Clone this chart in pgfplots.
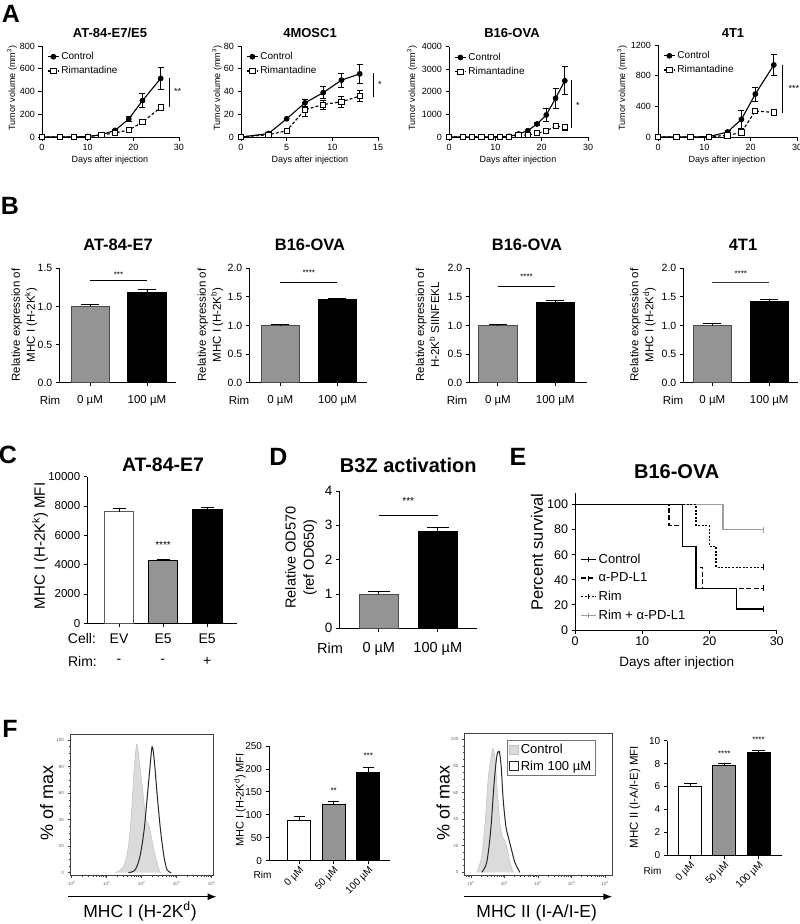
\documentclass[border=0pt]{standalone}
\usepackage{fontspec}
\setmainfont{Liberation Sans}
\usepackage{pgfplots}
\pgfplotsset{compat=1.18}
\usetikzlibrary{arrows.meta}
\newcommand\fs[1]{\fontsize{#1}{#1}\selectfont}
\definecolor{bargray}{gray}{0.58}
\definecolor{histgray}{gray}{0.86}
\definecolor{survgray}{gray}{0.62}

\pgfplotsset{
 gp/.style={scale only axis, anchor=south west, axis x line*=bottom, axis y line*=left,
   axis line style={line width=0.9pt, black}, tick align=outside, major tick length=3.5pt,
   tick style={line width=0.9pt, black}, clip=false, scaled ticks=false,
   /pgf/number format/assume math mode=true, /pgf/number format/1000 sep={}},
 gA/.style={gp, width=137pt, height=91pt, xmin=0, ymin=0, xtick={0,10,20,30},
   tick label style={font=\fs{9}},
   legend style={draw=none, fill=none, at={(0.03,0.965)}, anchor=north west, font=\fs{10}, row sep=1.5pt, inner sep=1pt},
   legend cell align=left,
   legend image code/.code={\draw[mark repeat=2,mark phase=2,##1] plot coordinates {(0pt,0pt)(5.5pt,0pt)(11pt,0pt)};}},
 ctrl/.style={black, line width=1.1pt, mark=*, mark size=2.3pt, mark options={solid}},
 rimt/.style={black, line width=1.1pt, dash pattern=on 3pt off 2pt, mark=square*, mark size=2.6pt, mark options={solid, fill=white, line width=0.9pt}},
 errA/.style={forget plot, only marks, mark=none, black, error bars/y dir=both, error bars/y explicit, error bars/error bar style={line width=0.8pt, solid}, error bars/error mark options={rotate=90, line width=0.8pt, mark size=3pt, solid}},
 gB/.style={gp, height=114.4pt, ymin=0, xtick={0,1}, xticklabels={0 µM,100 µM},
   yticklabel style={font=\fs{10.5}, /pgf/number format/fixed, /pgf/number format/fixed zerofill, /pgf/number format/precision=1},
   xticklabel style={font=\fs{11.5}, yshift=-6pt}},
 gpbar/.style={ybar, bar shift=0pt, bar width=0.67, line width=0.8pt, error bars/y dir=plus, error bars/y explicit, error bars/error bar style={black, line width=0.9pt}, error bars/error mark options={rotate=90, black, line width=0.9pt, mark size=#1}},
 gH/.style={scale only axis, anchor=south west, tick align=outside, tick pos=left, major tick length=2.5pt, minor tick length=1.5pt,
   axis line style={black!75, line width=0.6pt}, tick style={black!75, line width=0.5pt},
   tick label style={font=\fs{4.5}, text=black!60}, xtick={0,1,2,3,4},
   xticklabels={10\textsuperscript{0},10\textsuperscript{1},10\textsuperscript{2},10\textsuperscript{3},10\textsuperscript{4}},
   ytick={0,20,40,60,80,100}, minor y tick num=3,
   /pgf/number format/assume math mode=true},
}

\begin{document}
\begin{tikzpicture}
\path[use as bounding box] (0pt,0pt) rectangle (800pt,-924pt);

%================ A =================
\begin{axis}[gA, at={(42pt,-137pt)}, xmax=30, ymax=800, ytick={0,200,400,600,800}]
\addplot[errA] coordinates {(16,58)+-(0,8) (19,158)+-(0,20) (22,320)+-(0,63) (26,515)+-(0,100)};
\addplot[errA] coordinates {(19,62)+-(0,8) (22,130)+-(0,10) (26,260)+-(0,18)};
\addplot[ctrl] coordinates {(0,0)(4,0)(7,0)(10,5)(13,20)(16,58)(19,158)(22,320)(26,515)};
\addlegendentry{Control}
\addplot[rimt] coordinates {(0,0)(4,0)(7,0)(10,3)(13,18)(16,35)(19,62)(22,130)(26,260)};
\addlegendentry{Rimantadine}
\draw[line width=0.8pt] (axis cs:28,264) -- (axis cs:28,519);
\node[font=\fs{9}] at (axis cs:29.7,404) {**};
\end{axis}

\begin{axis}[gA, at={(241pt,-137pt)}, xmax=15, xtick={0,5,10,15}, ymax=80, ytick={0,20,40,60,80}]
\addplot[errA] coordinates {(7,30)+-(0,3) (9,39)+-(0,5.5) (11,50)+-(0,6) (13,55.5)+-(0,8)};
\addplot[errA] coordinates {(7,24)+-(0,6) (9,28.5)+-(0,4) (11,31)+-(0,5) (13,36)+-(0,5)};
\addplot[ctrl] coordinates {(0,0)(3,3)(5,16)(7,30)(9,39)(11,50)(13,55.5)};
\addlegendentry{Control}
\addplot[rimt] coordinates {(0,0)(3,2)(5,5.5)(7,24)(9,28.5)(11,31)(13,36)};
\addlegendentry{Rimantadine}
\draw[line width=0.8pt] (axis cs:14.45,35) -- (axis cs:14.45,56);
\node[font=\fs{9}] at (axis cs:15.2,46) {*};
\end{axis}

\begin{axis}[gA, at={(449pt,-137pt)}, width=139pt, height=90.3pt, xmax=30, ymax=4000, ytick={0,1000,2000,3000,4000}]
\addplot[errA] coordinates {(19,576)+-(0,80) (21,975)+-(0,300) (23,1714)+-(0,450) (25,2494)+-(0,620)};
\addplot[errA] coordinates {(21,266)+-(0,50) (23,487)+-(0,90) (25,430)+-(0,130)};
\addplot[ctrl] coordinates {(0,0)(3,0)(5,0)(7,0)(9,0)(11,20)(13,30)(15,133)(17,280)(19,576)(21,975)(23,1714)(25,2494)};
\addlegendentry{Control}
\addplot[rimt] coordinates {(0,0)(3,0)(5,0)(7,0)(9,0)(11,5)(13,15)(15,80)(17,90)(19,165)(21,266)(23,487)(25,430)};
\addlegendentry{Rimantadine}
\draw[line width=0.8pt] (axis cs:26.5,400) -- (axis cs:26.5,2525);
\node[font=\fs{9}] at (axis cs:27.8,1420) {*};
\end{axis}

\begin{axis}[gA, at={(658pt,-137pt)}, width=139pt, height=92pt, xmax=30, ymax=1200, ytick={0,400,800,1200}]
\addplot[errA] coordinates {(15,65)+-(0,25) (18,230)+-(0,120) (21,560)+-(0,90) (25,940)+-(0,140)};
\addplot[errA] coordinates {(15,20)+-(0,10) (18,60)+-(0,40) (21,340)+-(0,15) (25,320)+-(0,40)};
\addplot[ctrl] coordinates {(0,0)(4,0)(7,0)(11,5)(15,65)(18,230)(21,560)(25,940)};
\addlegendentry{Control}
\addplot[rimt] coordinates {(0,0)(4,0)(7,0)(11,5)(15,20)(18,60)(21,340)(25,320)};
\addlegendentry{Rimantadine}
\draw[line width=0.8pt] (axis cs:26.8,309) -- (axis cs:26.8,939);
\node[font=\fs{9}] at (axis cs:29.3,640) {***};
\end{axis}

%================ B =================
\begin{axis}[gB, at={(59.3pt,-382.7pt)}, width=116.7pt, xmin=-0.54, xmax=1.51, ymax=1.5, ytick={0,0.5,1,1.5}]
\addplot[gpbar=9pt, fill=bargray, draw=black!70] coordinates {(0,1.0)+-(0,0.02)};
\addplot[gpbar=9pt, fill=black, draw=black] coordinates {(1,1.19)+-(0,0.03)};
\draw[line width=0.8pt] (axis cs:0,1.335) -- (axis cs:1,1.335);
\node[font=\fs{8}] at (axis cs:0.5,1.42) {***};
\end{axis}

\begin{axis}[gB, at={(249.3pt,-382.7pt)}, width=117.4pt, xmin=-0.54, xmax=1.51, ymax=2, ytick={0,0.5,1,1.5,2}]
\addplot[gpbar=9pt, fill=bargray, draw=black!70] coordinates {(0,1.0)+-(0,0.01)};
\addplot[gpbar=9pt, fill=black, draw=black] coordinates {(1,1.45)+-(0,0.03)};
\draw[line width=0.8pt] (axis cs:0,1.75) -- (axis cs:1,1.75);
\node[font=\fs{8}] at (axis cs:0.5,1.92) {****};
\end{axis}

\begin{axis}[gB, at={(469.3pt,-382.7pt)}, width=117.4pt, xmin=-0.5, xmax=1.55, ymax=2, ytick={0,0.5,1,1.5,2}]
\addplot[gpbar=9pt, fill=bargray, draw=black!70] coordinates {(0,1.0)+-(0,0.015)};
\addplot[gpbar=9pt, fill=black, draw=black] coordinates {(1,1.41)+-(0,0.02)};
\draw[line width=0.8pt] (axis cs:0,1.68) -- (axis cs:1,1.68);
\node[font=\fs{8}] at (axis cs:0.5,1.85) {****};
\end{axis}

\begin{axis}[gB, at={(683.3pt,-382.7pt)}, width=115pt, xmin=-0.51, xmax=1.51, ymax=2, ytick={0,0.5,1,1.5,2}]
\addplot[gpbar=9pt, fill=bargray, draw=black!70] coordinates {(0,1.0)+-(0,0.03)};
\addplot[gpbar=9pt, fill=black, draw=black] coordinates {(1,1.43)+-(0,0.025)};
\draw[line width=0.6pt, black!80] (axis cs:0,1.75) -- (axis cs:1,1.75);
\node[font=\fs{8}] at (axis cs:0.5,1.9) {****};
\end{axis}

%================ C =================
\begin{axis}[gp, at={(87.3pt,-623.3pt)}, width=149.4pt, height=146.6pt, xmin=-0.72, xmax=2.67, ymin=0, ymax=10000,
  ytick={0,2000,4000,6000,8000,10000}, xtick={0,1,2}, xticklabels={EV,E5,E5},
  yticklabel style={font=\fs{11.5}}, xticklabel style={font=\fs{14}, yshift=-4pt}]
\addplot[gpbar=6.5pt, fill=white, draw=black!65] coordinates {(0,7600)+-(0,250)};
\addplot[gpbar=6.5pt, fill=bargray, draw=black] coordinates {(1,4300)+-(0,50)};
\addplot[gpbar=6.5pt, fill=black, draw=black] coordinates {(2,7750)+-(0,120)};
\node[font=\fs{10}] at (axis cs:1,5340) {****};
\end{axis}

%================ D =================
\begin{axis}[gp, at={(339.3pt,-628.3pt)}, width=137.4pt, height=137.3pt, xmin=-0.67, xmax=1.66, ymin=0, ymax=4,
  ytick={0,1,2,3,4}, xtick={0,1}, xticklabels={0 µM,100 µM},
  yticklabel style={font=\fs{13.5}}, xticklabel style={font=\fs{14.5}, yshift=-7pt}]
\addplot[gpbar=11pt, fill=bargray, draw=black!70] coordinates {(0,1.0)+-(0,0.07)};
\addplot[gpbar=11pt, fill=black, draw=black] coordinates {(1,2.82)+-(0,0.13)};
\draw[line width=0.9pt] (axis cs:0,3.3) -- (axis cs:1,3.3);
\node[font=\fs{10}] at (axis cs:0.5,3.72) {***};
\end{axis}

%================ E =================
\begin{axis}[gp, at={(575pt,-630pt)}, width=201.7pt, height=136.7pt, xmin=0, xmax=30, ymin=0, ymax=109,
  xtick={0,10,20,30}, ytick={0,20,40,60,80,100}, tick label style={font=\fs{12.5}},
  legend style={draw=none, fill=none, at={(0.02,0.58)}, anchor=north west, font=\fs{13}, row sep=4pt, inner sep=1pt},
  legend cell align=left,
  legend image code/.code={\draw[#1] (0pt,0pt) -- (15pt,0pt); \draw[#1, solid] (7.5pt,-2.5pt) -- (7.5pt,2.5pt);}]
\addplot[const plot, survgray, line width=1.4pt, forget plot] coordinates {(0,100)(22,80)(28,80)};
\addplot[only marks, mark=|, mark size=3pt, survgray, line width=1pt, forget plot] coordinates {(28,80)};
\addplot[const plot, black, line width=1.4pt] coordinates {(0,100)(16,66.67)(18,33.33)(24,16.67)(28,16.67)};
\addlegendentry{Control}
\addplot[const plot, black, line width=1.4pt, dash pattern=on 5pt off 2.5pt] coordinates {(0,100)(14,83.33)(16,66.67)(18,50)(19,33.33)(28,33.33)};
\addlegendentry{α-PD-L1}
\addplot[const plot, black, line width=1.4pt, dash pattern=on 2pt off 1.6pt] coordinates {(0,100)(18,83.33)(20,66.67)(21,50)(28,50)};
\addlegendentry{Rim}
\addplot[only marks, mark=|, mark size=3pt, black, line width=1pt, forget plot] coordinates {(28,16.67)(28,33.33)(28,50)};
\addlegendimage{survgray, line width=1.4pt}
\addlegendentry{Rim + α-PD-L1}
\end{axis}

%================ F =================
\begin{axis}[gH, at={(70pt,-875.7pt)}, width=143.3pt, height=141.7pt, xmin=-0.05, xmax=4.05, ymin=-2.3, ymax=104.6,
  minor xtick={0.301,0.477,0.602,0.699,0.778,0.845,0.903,0.954,1.301,1.477,1.602,1.699,1.778,1.845,1.903,1.954,2.301,2.477,2.602,2.699,2.778,2.845,2.903,2.954,3.301,3.477,3.602,3.699,3.778,3.845,3.903,3.954}]
\addplot[fill=histgray, draw=black!25, line width=0.5pt, smooth] coordinates {(1.24,0)(1.48,4.5)(1.62,19.6)(1.71,44.8)(1.78,77)(1.86,97)(1.93,85)(2.03,62)(2.12,40)(2.19,37)(2.26,29.7)(2.33,19.6)(2.43,8.3)(2.52,0.75)(2.56,0)};
\addplot[draw=black!85, line width=1pt, smooth] coordinates {(1.62,0)(1.81,2)(1.95,12)(2.07,32)(2.16,57)(2.24,80)(2.30,95)(2.36,85)(2.45,57)(2.54,32)(2.64,12)(2.73,2)(2.85,0)};
\end{axis}

\begin{axis}[gp, at={(269pt,-860.7pt)}, width=121pt, height=114.7pt, xmin=-0.87, xmax=2.63, ymin=0, ymax=250,
  ytick={0,50,100,150,200,250}, xtick={0,1,2}, xticklabels={0 µM,50 µM,100 µM},
  yticklabel style={font=\fs{10}}, xticklabel style={font=\fs{10}, rotate=45, anchor=north east, inner sep=1pt}]
\addplot[gpbar=5.5pt, fill=white, draw=black] coordinates {(0,88.7)+-(0,7)};
\addplot[gpbar=5.5pt, fill=bargray, draw=black] coordinates {(1,123)+-(0,6.5)};
\addplot[gpbar=5.5pt, fill=black, draw=black] coordinates {(2,192.7)+-(0,11.5)};
\node[font=\fs{8}] at (axis cs:1,152) {**};
\node[font=\fs{8}] at (axis cs:2,228) {***};
\end{axis}

\begin{axis}[gH, at={(464.3pt,-875pt)}, width=148pt, height=141.7pt, xmin=-0.2, xmax=4.22, ymin=-2, ymax=104.5,
  minor xtick={-0.155,-0.097,-0.046,0.301,0.477,0.602,0.699,0.778,0.845,0.903,0.954,1.301,1.477,1.602,1.699,1.778,1.845,1.903,1.954,2.301,2.477,2.602,2.699,2.778,2.845,2.903,2.954,3.301,3.477,3.602,3.699,3.778,3.845,3.903,3.954},
  legend style={at={(0.286,0.953)}, anchor=north west, draw=black!55, line width=0.6pt, font=\fs{13}, inner sep=2pt, row sep=1.5pt},
  legend cell align=left,
  legend image code/.code={\draw[#1, line width=0.9pt] (0pt,-4.5pt) rectangle (9pt,4.5pt);}]
\addplot[fill=histgray, draw=black!25, line width=0.5pt, smooth] coordinates {(0.17,0)(0.32,12)(0.42,37)(0.52,72)(0.62,90)(0.66,93)(0.72,85)(0.79,60)(0.86,38)(0.93,27)(1.0,24)(1.07,19)(1.16,8)(1.26,0)};
\addlegendentry{Control}
\addplot[draw=black!85, line width=1pt, smooth] coordinates {(0.32,0)(0.47,7.5)(0.59,32)(0.69,67)(0.77,87)(0.84,91)(0.90,80)(0.96,55)(1.04,35)(1.11,27)(1.21,17)(1.31,7.5)(1.46,0)};
\addlegendentry{Rim 100 µM}
\end{axis}

\begin{axis}[gp, at={(667.3pt,-855pt)}, width=114.4pt, height=114.3pt, xmin=-0.67, xmax=2.68, ymin=0, ymax=10,
  ytick={0,2,4,6,8,10}, xtick={0,1,2}, xticklabels={0 µM,50 µM,100 µM},
  yticklabel style={font=\fs{10}}, xticklabel style={font=\fs{10}, rotate=45, anchor=north east, inner sep=1pt}]
\addplot[gpbar=6.5pt, fill=white, draw=black] coordinates {(0,6.04)+-(0,0.22)};
\addplot[gpbar=6.5pt, fill=bargray, draw=black] coordinates {(1,7.81)+-(0,0.18)};
\addplot[gpbar=6.5pt, fill=black, draw=black] coordinates {(2,8.95)+-(0,0.18)};
\node[font=\fs{8}] at (axis cs:1,8.9) {****};
\node[font=\fs{8}] at (axis cs:2,10.05) {****};
\end{axis}

%================ text =================
\begin{scope}[x=1pt, y=-1pt]
% panel letters
\foreach \l/\xx/\yy in {A/11/13.5, B/10/206, C/8/455, D/278.5/457, E/518/457, F/10/729}
  \node[font=\bfseries\fs{25}, inner sep=0pt] at (\xx,\yy) {\l};
% A
\node[font=\bfseries\fs{13}] at (110,33) {AT-84-E7/E5};
\node[font=\bfseries\fs{13}] at (310,33) {4MOSC1};
\node[font=\bfseries\fs{13}] at (512,33) {B16-OVA};
\node[font=\bfseries\fs{13}] at (733,33) {4T1};
\foreach \xx in {12,217,412,622}
  \node[rotate=90, font=\fs{9}] at (\xx,88) {Tumor volume (mm\textsuperscript{3})};
\foreach \xx in {110,310,518,727}
  \node[font=\fs{9}] at (\xx,160) {Days after injection};
% B
\node[font=\bfseries\fs{16.5}] at (118,245) {AT-84-E7};
\node[font=\bfseries\fs{16.5}] at (310,245) {B16-OVA};
\node[font=\bfseries\fs{16.5}] at (527,245) {B16-OVA};
\node[font=\bfseries\fs{16.5}] at (743,245) {4T1};
\node[rotate=90, align=center, font=\fontsize{11.5}{15}\selectfont] at (24.5,325) {Relative expression of\\MHC I (H-2K\textsuperscript{k})};
\node[rotate=90, align=center, font=\fontsize{11.5}{15}\selectfont] at (210.5,325) {Relative expression of\\MHC I (H-2K\textsuperscript{b})};
\node[rotate=90, align=center, font=\fontsize{11.5}{15}\selectfont] at (427.5,325) {Relative expression of\\H-2K\textsuperscript{b} SIINFEKL};
\node[rotate=90, align=center, font=\fontsize{11.5}{15}\selectfont] at (643,325) {Relative expression of\\MHC I (H-2K\textsuperscript{d})};
\foreach \xx in {50,239,457,673}
  \node[font=\fs{11.5}] at (\xx,400) {Rim};
% C
\node[font=\bfseries\fs{19.5}] at (163,465) {AT-84-E7};
\node[rotate=90, font=\fs{15}] at (40,546) {MHC I (H-2K\textsuperscript{k}) MFI};
\node[font=\fs{14}] at (82,638.3) {Cell:};
\node[font=\fs{14}] at (82.5,661.7) {Rim:};
\node[font=\fs{14}] at (119,661.7) {-};
\node[font=\fs{14}] at (162.8,661.7) {-};
\node[font=\fs{14}] at (207.2,661.7) {+};
% D
\node[font=\bfseries\fs{20}] at (408.3,465) {B3Z activation};
\node[rotate=90, align=center, font=\fontsize{14.5}{18.3}\selectfont] at (301,557.5) {Relative OD570\\(ref OD650)};
\node[font=\fs{14.5}] at (330,648.3) {Rim};
% E
\node[font=\bfseries\fs{20}] at (676.7,472) {B16-OVA};
\node[rotate=90, font=\fs{16.5}] at (537,552) {Percent survival};
\node[font=\fs{13.5}] at (676.7,663.3) {Days after injection};
% F
\node[rotate=90, font=\fs{18}] at (46.7,803) {\% of max};
\draw[line width=1.5pt, -{Latex[length=9pt,width=7pt]}] (68.3,896.7) -- (216.7,896.7);
\node[font=\fs{17.5}, anchor=base] at (140,917) {MHC I (H-2K\textsuperscript{d})};
\node[rotate=90, font=\fs{11}] at (240,800) {MHC I (H-2K\textsuperscript{d}) MFI};
\node[font=\fs{10}] at (262.5,875) {Rim};
\node[rotate=90, font=\fs{18}] at (443.3,803) {\% of max};
\draw[line width=1.5pt, -{Latex[length=9pt,width=7pt]}] (464.3,896.7) -- (612.3,896.7);
\node[font=\fs{17.5}, anchor=base] at (536.7,917) {MHC II (I-A/I-E)};
\node[rotate=90, font=\fs{11.5}] at (635,797) {MHC II (I-A/I-E) MFI};
\node[font=\fs{10}] at (652.5,871) {Rim};
\end{scope}
\end{tikzpicture}
\end{document}
